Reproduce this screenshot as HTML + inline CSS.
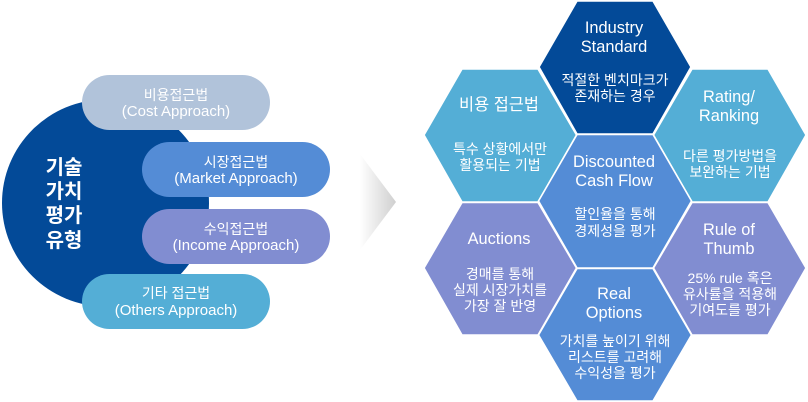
<!DOCTYPE html>
<html><head><meta charset="utf-8"><style>
html,body{margin:0;padding:0;background:#fff;width:808px;height:402px;overflow:hidden}
svg{display:block}
text{font-family:"Liberation Sans","Noto Sans CJK KR",sans-serif;fill:#fff;text-anchor:middle}
.t{font-size:16.4px}
.b{font-size:14px}
.p{font-size:15px}
.h{font-size:20px;font-weight:bold}
.x polygon{stroke:#fff;stroke-width:1.6px}
</style></head><body>
<svg width="808" height="402" viewBox="0 0 808 402" xmlns="http://www.w3.org/2000/svg">
<defs><linearGradient id="g" x1="0" x2="1" y1="0" y2="0"><stop offset="0" stop-color="#fff"/><stop offset="1" stop-color="#cfcfcf"/></linearGradient></defs>
<circle cx="105.5" cy="203" r="103.5" fill="#034a98"/>
<rect x="82" y="75" width="188" height="55" rx="27.5" fill="#b1c3da"/>
<rect x="142" y="142" width="188" height="55" rx="27.5" fill="#548cd6"/>
<rect x="142" y="209" width="188" height="55" rx="27.5" fill="#818dd1"/>
<rect x="82" y="274" width="188" height="55" rx="27.5" fill="#54aed6"/>
<polygon points="360,154 396,202 360,250" fill="url(#g)"/>
<g class="x">
<polygon points="577,1 653,1 691,67 653,134 577,134 539,67" fill="#034a98"/>
<polygon points="462,69 538,69 576.5,135 538,202 462,202 424,135" fill="#54aed6"/>
<polygon points="692,69 768,69 806,135 768,202 692,202 653.5,135" fill="#54aed6"/>
<polygon points="577,134.5 653,134.5 691.5,201 653,268 577,268 538.5,201" fill="#548cd6"/>
<polygon points="462,202.5 538,202.5 576.5,268 538,335 462,335 424,268" fill="#818dd1"/>
<polygon points="692,202.5 768,202.5 806,268 768,335 692,335 653.5,268" fill="#818dd1"/>
<polygon points="577,268.5 653,268.5 691.5,335 653,401 577,401 538.5,335" fill="#548cd6"/>
</g>
<text class="h" x="64" y="174">기술</text>
<text class="h" x="64" y="198">가치</text>
<text class="h" x="64" y="222">평가</text>
<text class="h" x="64" y="247">유형</text>
<text class="b" x="176" y="100">비용접근법</text>
<text class="p" x="176" y="116">(Cost Approach)</text>
<text class="b" x="236" y="167">시장접근법</text>
<text class="p" x="236" y="183">(Market Approach)</text>
<text class="b" x="236" y="234">수익접근법</text>
<text class="p" x="236" y="250">(Income Approach)</text>
<text class="b" x="176" y="298">기타 접근법</text>
<text class="p" x="176" y="315">(Others Approach)</text>
<text class="t" x="614" y="33">Industry</text>
<text class="t" x="614" y="52">Standard</text>
<text class="b" x="615" y="85">적절한 벤치마크가</text>
<text class="b" x="615" y="101">존재하는 경우</text>
<text class="t" x="499" y="110">비용 접근법</text>
<text class="b" x="500" y="154">특수 상황에서만</text>
<text class="b" x="500" y="170">활용되는 기법</text>
<text class="t" x="729" y="102">Rating/</text>
<text class="t" x="729" y="121">Ranking</text>
<text class="b" x="730" y="161">다른 평가방법을</text>
<text class="b" x="730" y="177">보완하는 기법</text>
<text class="t" x="614" y="167">Discounted</text>
<text class="t" x="614" y="186">Cash Flow</text>
<text class="b" x="615" y="219">할인율을 통해</text>
<text class="b" x="615" y="236">경제성을 평가</text>
<text class="t" x="499" y="244">Auctions</text>
<text class="b" x="500" y="279">경매를 통해</text>
<text class="b" x="500" y="295">실제 시장가치를</text>
<text class="b" x="500" y="311">가장 잘 반영</text>
<text class="t" x="729" y="235">Rule of</text>
<text class="t" x="729" y="254">Thumb</text>
<text class="b" x="730" y="283">25% rule 혹은</text>
<text class="b" x="730" y="299">유사률을 적용해</text>
<text class="b" x="730" y="315">기여도를 평가</text>
<text class="t" x="614" y="299">Real</text>
<text class="t" x="614" y="318">Options</text>
<text class="b" x="615" y="346">가치를 높이기 위해</text>
<text class="b" x="615" y="362">리스트를 고려해</text>
<text class="b" x="615" y="378">수익성을 평가</text>
</svg>
</body></html>
